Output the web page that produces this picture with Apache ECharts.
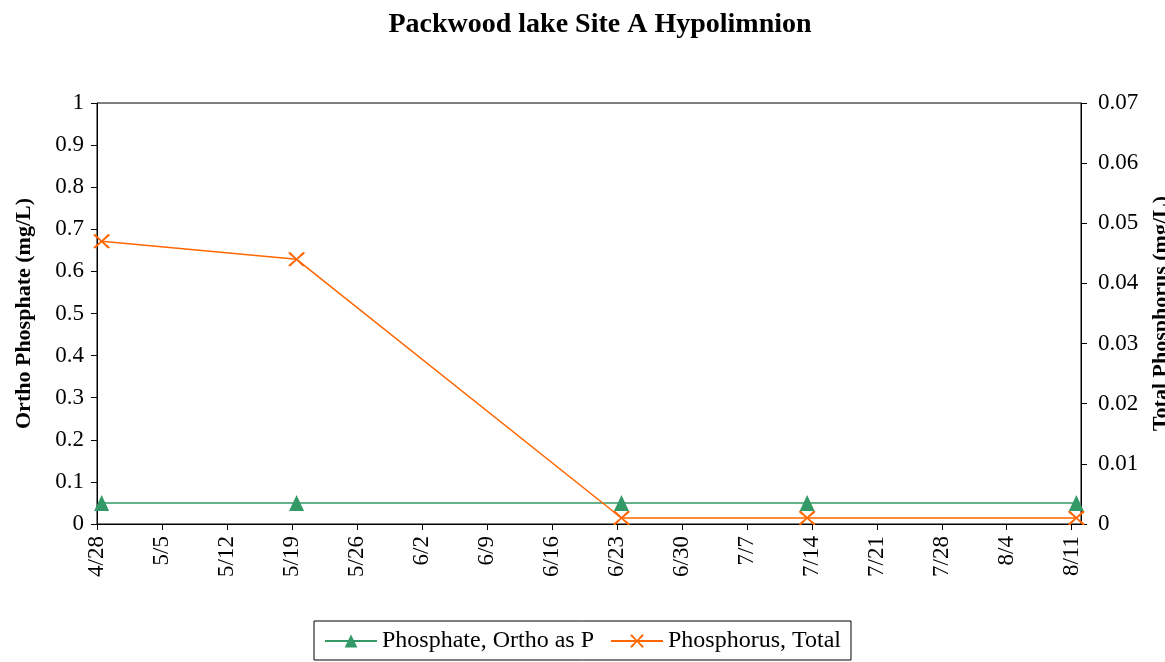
<!DOCTYPE html>
<html>
<head>
<meta charset="utf-8">
<script src="https://cdn.jsdelivr.net/npm/echarts@6/dist/echarts.min.js"></script>
<style>
  html, body { margin: 0; padding: 0; background: #fff; }
  #chart { width: 1165px; height: 662px; }
</style>
</head>
<body>
<div id="chart"></div>
<script>
// sample dates (M/D) and measured values
const sampleDates = ['4/28', '5/19', '6/23', '7/13', '8/11']
const orthoPhosphate = [0.05, 0.05, 0.05, 0.05, 0.05]      // mg/L, left axis
const totalPhosphorus = [0.047, 0.044, 0.001, 0.001, 0.001] // mg/L, right axis

const startDate = '4/28'
const dayCount = 106 // axis runs through the end of 8/11

const YEAR = 2007
const toDate = (md) => {
  const [m, d] = md.split('/').map(Number)
  return new Date(YEAR, m - 1, d)
}
const dayMs = 86400000
const base = toDate(startDate)
// Excel-style date axis: each point sits in the middle of its day
const dayOffset = (md) => Math.round((toDate(md) - base) / dayMs) + 0.5
const fmtDay = (v) => {
  const dt = new Date(base.getTime() + v * dayMs)
  return (dt.getMonth() + 1) + '/' + dt.getDate()
}

const font = 'Liberation Serif'
const crossX = 'path://M0,0 L1.2,0 L5,4.2 L8.8,0 L10,0 L10,1 L5.8,5 L10,9 L10,10 L8.8,10 L5,5.8 L1.2,10 L0,10 L0,9 L4.2,5 L0,1 Z'

const chart = echarts.init(document.getElementById('chart'))
chart.setOption({
  backgroundColor: '#fff',
  animation: false,
  textStyle: { fontFamily: font, color: '#000' },
  title: {
    text: 'Packwood lake Site A Hypolimnion',
    left: 595,
    textAlign: 'center',
    top: 6,
    textStyle: { fontFamily: font, fontSize: 28, fontWeight: 'bold', color: '#000' },
  },
  grid: {
    left: 97, right: 84, top: 103, bottom: 138,
    outerBoundsMode: 'none',
    show: true, borderColor: '#000', borderWidth: 1,
  },
  legend: {
    bottom: 2,
    left: 'center',
    itemWidth: 52,
    itemHeight: 16,
    itemGap: 16,
    padding: [8, 10, 7, 10],
    borderColor: '#000',
    borderWidth: 1,
    textStyle: { fontFamily: font, fontSize: 24, color: '#000' },
  },
  xAxis: {
    type: 'value',
    min: 0,
    max: dayCount,
    interval: 7,
    splitLine: { show: false },
    axisLine: { lineStyle: { color: '#000' } },
    axisTick: { length: 6, lineStyle: { color: '#000' } },
    axisLabel: {
      rotate: 90,
      fontFamily: font,
      fontSize: 23,
      color: '#000',
      margin: 12,
      showMaxLabel: false,
      formatter: (v) => (v % 7 === 0 ? fmtDay(v) : ''),
    },
  },
  yAxis: [
    {
      type: 'value',
      min: 0, max: 1, interval: 0.1,
      name: 'Ortho Phosphate (mg/L)',
      nameLocation: 'middle',
      nameGap: 62,
      nameTextStyle: { fontFamily: font, fontSize: 22, fontWeight: 'bold', color: '#000' },
      splitLine: { show: false },
      axisLine: { show: true, lineStyle: { color: '#000' } },
      axisTick: { show: true, length: 6, lineStyle: { color: '#000' } },
      axisLabel: { fontFamily: font, fontSize: 23, color: '#000', margin: 13 },
    },
    {
      type: 'value',
      min: 0, max: 0.07, interval: 0.01,
      name: 'Total Phosphorus (mg/L)',
      nameLocation: 'middle',
      nameGap: 69,
      nameTextStyle: { fontFamily: font, fontSize: 22, fontWeight: 'bold', color: '#000' },
      splitLine: { show: false },
      axisLine: { show: true, lineStyle: { color: '#000' } },
      axisTick: { show: true, length: 6, lineStyle: { color: '#000' } },
      axisLabel: {
        fontFamily: font, fontSize: 23, color: '#000', margin: 17,
        formatter: (v) => (v === 0 ? '0' : v.toFixed(2)),
      },
    },
  ],
  series: [
    {
      name: 'Phosphate, Ortho as P',
      type: 'line',
      yAxisIndex: 0,
      data: sampleDates.map((d, i) => [dayOffset(d), orthoPhosphate[i]]),
      symbol: 'triangle',
      symbolSize: [15, 16],
      itemStyle: { color: '#339966' },
      lineStyle: { color: '#339966', width: 1.5 },
    },
    {
      name: 'Phosphorus, Total',
      type: 'line',
      yAxisIndex: 1,
      data: sampleDates.map((d, i) => [dayOffset(d), totalPhosphorus[i]]),
      symbol: crossX,
      symbolSize: [16, 14],
      itemStyle: { color: '#ff6600' },
      lineStyle: { color: '#ff6600', width: 1.5 },
    },
  ],
})
</script>
</body>
</html>
